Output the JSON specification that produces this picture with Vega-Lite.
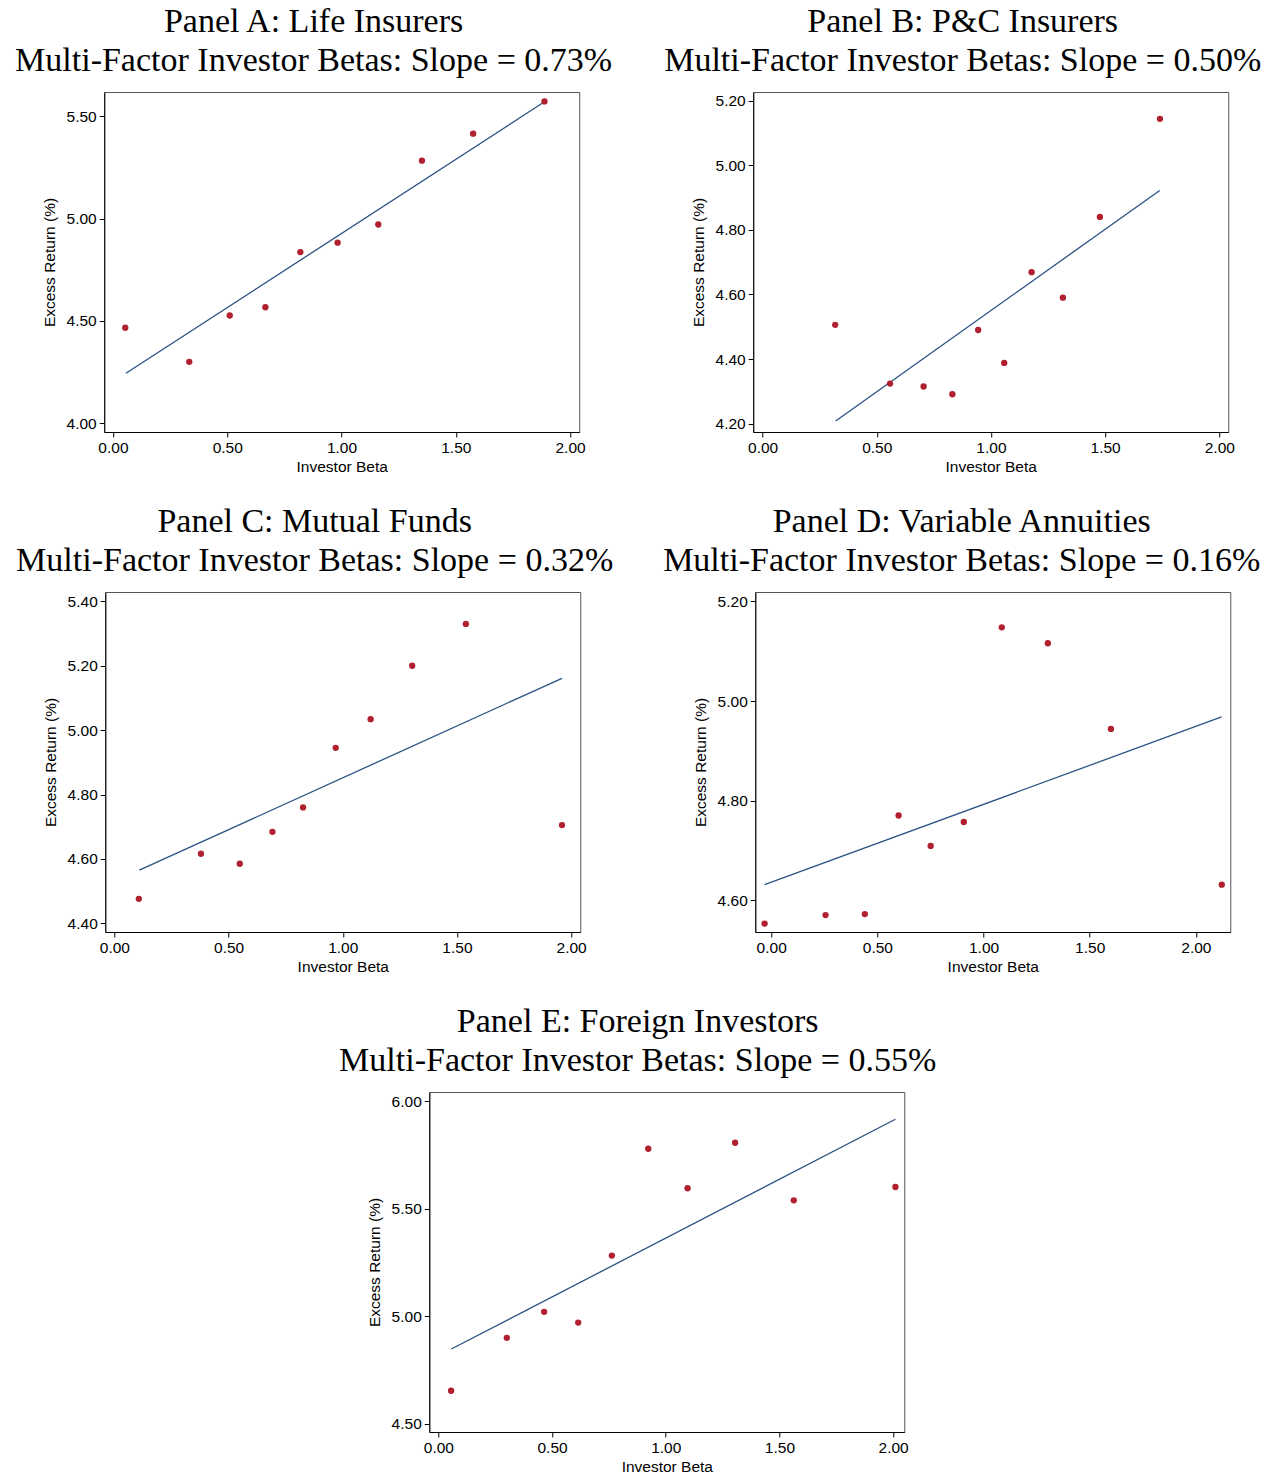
{
  "$schema": "https://vega.github.io/schema/vega-lite/v6.json",
  "background": "white",
  "padding": {"left": 14, "top": 4, "right": 5, "bottom": 2},
  "config": {
    "view": {"stroke": "#555", "strokeWidth": 1},
    "axis": {"grid": false, "domainColor": "black", "tickColor": "black", "labelColor": "black", "titleColor": "black", "labelFont": "Liberation Sans", "titleFont": "Liberation Sans", "labelFontSize": 15.5, "titleFontSize": 15.5, "titleFontWeight": "normal", "tickSize": 5, "format": ".2f"},
    "axisY": {"labelPadding": 3, "titlePadding": 9},
    "axisX": {"labelPadding": 3, "titlePadding": 4},
    "title": {"font": "Liberation Serif", "fontSize": 34, "fontWeight": "normal", "lineHeight": 39, "anchor": "middle", "frame": "bounds", "offset": 14, "color": "black"}
  },
  "datasets": {
    "pts": [
      {"panel": "A", "s": "pt", "beta": 0.054, "ret": 4.466},
      {"panel": "A", "s": "pt", "beta": 0.334, "ret": 4.299},
      {"panel": "A", "s": "pt", "beta": 0.511, "ret": 4.526},
      {"panel": "A", "s": "pt", "beta": 0.667, "ret": 4.566},
      {"panel": "A", "s": "pt", "beta": 0.820, "ret": 4.836},
      {"panel": "A", "s": "pt", "beta": 0.983, "ret": 4.882},
      {"panel": "A", "s": "pt", "beta": 1.161, "ret": 4.971},
      {"panel": "A", "s": "pt", "beta": 1.352, "ret": 5.283},
      {"panel": "A", "s": "pt", "beta": 1.576, "ret": 5.415},
      {"panel": "A", "s": "pt", "beta": 1.888, "ret": 5.573},
      {"panel": "A", "s": "fit", "beta": 0.057, "ret": 4.243},
      {"panel": "A", "s": "fit", "beta": 1.888, "ret": 5.571},
      {"panel": "B", "s": "pt", "beta": 0.318, "ret": 4.506},
      {"panel": "B", "s": "pt", "beta": 0.558, "ret": 4.324},
      {"panel": "B", "s": "pt", "beta": 0.705, "ret": 4.315},
      {"panel": "B", "s": "pt", "beta": 0.831, "ret": 4.291},
      {"panel": "B", "s": "pt", "beta": 0.944, "ret": 4.490},
      {"panel": "B", "s": "pt", "beta": 1.058, "ret": 4.388},
      {"panel": "B", "s": "pt", "beta": 1.178, "ret": 4.669},
      {"panel": "B", "s": "pt", "beta": 1.315, "ret": 4.590},
      {"panel": "B", "s": "pt", "beta": 1.477, "ret": 4.840},
      {"panel": "B", "s": "pt", "beta": 1.740, "ret": 5.144},
      {"panel": "B", "s": "fit", "beta": 0.320, "ret": 4.208},
      {"panel": "B", "s": "fit", "beta": 1.739, "ret": 4.922},
      {"panel": "C", "s": "pt", "beta": 0.107, "ret": 4.476},
      {"panel": "C", "s": "pt", "beta": 0.379, "ret": 4.616},
      {"panel": "C", "s": "pt", "beta": 0.549, "ret": 4.585},
      {"panel": "C", "s": "pt", "beta": 0.692, "ret": 4.684},
      {"panel": "C", "s": "pt", "beta": 0.826, "ret": 4.760},
      {"panel": "C", "s": "pt", "beta": 0.969, "ret": 4.945},
      {"panel": "C", "s": "pt", "beta": 1.122, "ret": 5.034},
      {"panel": "C", "s": "pt", "beta": 1.304, "ret": 5.200},
      {"panel": "C", "s": "pt", "beta": 1.539, "ret": 5.330},
      {"panel": "C", "s": "pt", "beta": 1.960, "ret": 4.705},
      {"panel": "C", "s": "fit", "beta": 0.109, "ret": 4.565},
      {"panel": "C", "s": "fit", "beta": 1.960, "ret": 5.161},
      {"panel": "D", "s": "pt", "beta": -0.031, "ret": 4.553},
      {"panel": "D", "s": "pt", "beta": 0.256, "ret": 4.570},
      {"panel": "D", "s": "pt", "beta": 0.441, "ret": 4.572},
      {"panel": "D", "s": "pt", "beta": 0.600, "ret": 4.770},
      {"panel": "D", "s": "pt", "beta": 0.751, "ret": 4.709},
      {"panel": "D", "s": "pt", "beta": 0.907, "ret": 4.757},
      {"panel": "D", "s": "pt", "beta": 1.086, "ret": 5.148},
      {"panel": "D", "s": "pt", "beta": 1.303, "ret": 5.116},
      {"panel": "D", "s": "pt", "beta": 1.600, "ret": 4.944},
      {"panel": "D", "s": "pt", "beta": 2.122, "ret": 4.631},
      {"panel": "D", "s": "fit", "beta": -0.031, "ret": 4.631},
      {"panel": "D", "s": "fit", "beta": 2.121, "ret": 4.968},
      {"panel": "E", "s": "pt", "beta": 0.056, "ret": 4.653},
      {"panel": "E", "s": "pt", "beta": 0.301, "ret": 4.899},
      {"panel": "E", "s": "pt", "beta": 0.465, "ret": 5.020},
      {"panel": "E", "s": "pt", "beta": 0.615, "ret": 4.970},
      {"panel": "E", "s": "pt", "beta": 0.763, "ret": 5.282},
      {"panel": "E", "s": "pt", "beta": 0.923, "ret": 5.779},
      {"panel": "E", "s": "pt", "beta": 1.096, "ret": 5.595},
      {"panel": "E", "s": "pt", "beta": 1.305, "ret": 5.807},
      {"panel": "E", "s": "pt", "beta": 1.563, "ret": 5.539},
      {"panel": "E", "s": "pt", "beta": 2.010, "ret": 5.601},
      {"panel": "E", "s": "fit", "beta": 0.057, "ret": 4.847},
      {"panel": "E", "s": "fit", "beta": 2.010, "ret": 5.916}
    ]
  },
  "vconcat": [
    {
      "hconcat": [
        {
          "title": {"text": ["Panel A: Life Insurers", "Multi-Factor Investor Betas: Slope = 0.73%"]},
          "width": 475, "height": 340,
          "data": {"name": "pts"},
          "transform": [{"filter": "datum.panel === 'A'"}],
          "encoding": {
            "x": {"field": "beta", "type": "quantitative", "title": "Investor Beta", "scale": {"domain": [-0.038, 2.04], "nice": false, "zero": false}, "axis": {"values": [0, 0.5, 1, 1.5, 2]}},
            "y": {"field": "ret", "type": "quantitative", "title": "Excess Return (%)", "scale": {"domain": [3.956, 5.619], "nice": false, "zero": false}, "axis": {"values": [4, 4.5, 5, 5.5]}}
          },
          "layer": [
            {"transform": [{"filter": "datum.s === 'fit'"}], "mark": {"type": "line", "color": "#2a5282", "strokeWidth": 1.3}},
            {"transform": [{"filter": "datum.s === 'pt'"}], "mark": {"type": "point", "filled": true, "shape": "circle", "size": 40, "color": "#b0202f", "opacity": 1}}
          ]
        },
        {
          "title": {"text": ["Panel B: P&C Insurers", "Multi-Factor Investor Betas: Slope = 0.50%"]},
          "width": 475, "height": 340,
          "data": {"name": "pts"},
          "transform": [{"filter": "datum.panel === 'B'"}],
          "encoding": {
            "x": {"field": "beta", "type": "quantitative", "title": "Investor Beta", "scale": {"domain": [-0.041, 2.039], "nice": false, "zero": false}, "axis": {"values": [0, 0.5, 1, 1.5, 2]}},
            "y": {"field": "ret", "type": "quantitative", "title": "Excess Return (%)", "scale": {"domain": [4.174, 5.227], "nice": false, "zero": false}, "axis": {"values": [4.2, 4.4, 4.6, 4.8, 5.0, 5.2]}}
          },
          "layer": [
            {"transform": [{"filter": "datum.s === 'fit'"}], "mark": {"type": "line", "color": "#2a5282", "strokeWidth": 1.3}},
            {"transform": [{"filter": "datum.s === 'pt'"}], "mark": {"type": "point", "filled": true, "shape": "circle", "size": 40, "color": "#b0202f", "opacity": 1}}
          ]
        }
      ],
      "spacing": 50
    },
    {
      "hconcat": [
        {
          "title": {"text": ["Panel C: Mutual Funds", "Multi-Factor Investor Betas: Slope = 0.32%"]},
          "width": 475, "height": 340,
          "data": {"name": "pts"},
          "transform": [{"filter": "datum.panel === 'C'"}],
          "encoding": {
            "x": {"field": "beta", "type": "quantitative", "title": "Investor Beta", "scale": {"domain": [-0.04, 2.04], "nice": false, "zero": false}, "axis": {"values": [0, 0.5, 1, 1.5, 2]}},
            "y": {"field": "ret", "type": "quantitative", "title": "Excess Return (%)", "scale": {"domain": [4.373, 5.429], "nice": false, "zero": false}, "axis": {"values": [4.4, 4.6, 4.8, 5.0, 5.2, 5.4]}}
          },
          "layer": [
            {"transform": [{"filter": "datum.s === 'fit'"}], "mark": {"type": "line", "color": "#2a5282", "strokeWidth": 1.3}},
            {"transform": [{"filter": "datum.s === 'pt'"}], "mark": {"type": "point", "filled": true, "shape": "circle", "size": 40, "color": "#b0202f", "opacity": 1}}
          ]
        },
        {
          "title": {"text": ["Panel D: Variable Annuities", "Multi-Factor Investor Betas: Slope = 0.16%"]},
          "width": 475, "height": 340,
          "data": {"name": "pts"},
          "transform": [{"filter": "datum.panel === 'D'"}],
          "encoding": {
            "x": {"field": "beta", "type": "quantitative", "title": "Investor Beta", "scale": {"domain": [-0.075, 2.162], "nice": false, "zero": false}, "axis": {"values": [0, 0.5, 1, 1.5, 2]}},
            "y": {"field": "ret", "type": "quantitative", "title": "Excess Return (%)", "scale": {"domain": [4.536, 5.219], "nice": false, "zero": false}, "axis": {"values": [4.6, 4.8, 5.0, 5.2]}}
          },
          "layer": [
            {"transform": [{"filter": "datum.s === 'fit'"}], "mark": {"type": "line", "color": "#2a5282", "strokeWidth": 1.3}},
            {"transform": [{"filter": "datum.s === 'pt'"}], "mark": {"type": "point", "filled": true, "shape": "circle", "size": 40, "color": "#b0202f", "opacity": 1}}
          ]
        }
      ],
      "spacing": 48
    },
    {
      "title": {"text": ["Panel E: Foreign Investors", "Multi-Factor Investor Betas: Slope = 0.55%"]},
      "width": 475, "height": 340,
      "data": {"name": "pts"},
      "transform": [{"filter": "datum.panel === 'E'"}],
      "encoding": {
        "x": {"field": "beta", "type": "quantitative", "title": "Investor Beta", "scale": {"domain": [-0.04, 2.049], "nice": false, "zero": false}, "axis": {"values": [0, 0.5, 1, 1.5, 2]}},
        "y": {"field": "ret", "type": "quantitative", "title": "Excess Return (%)", "scale": {"domain": [4.461, 6.043], "nice": false, "zero": false}, "axis": {"values": [4.5, 5.0, 5.5, 6.0]}}
      },
      "layer": [
        {"transform": [{"filter": "datum.s === 'fit'"}], "mark": {"type": "line", "color": "#2a5282", "strokeWidth": 1.3}},
        {"transform": [{"filter": "datum.s === 'pt'"}], "mark": {"type": "point", "filled": true, "shape": "circle", "size": 40, "color": "#b0202f", "opacity": 1}}
      ]
    }
  ],
  "spacing": 28,
  "center": true
}
